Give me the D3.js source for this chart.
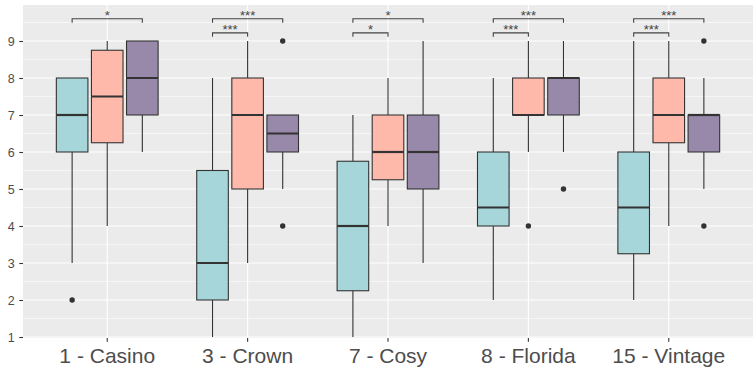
<!DOCTYPE html>
<html>
<head>
<meta charset="utf-8">
<script src="https://cdn.jsdelivr.net/npm/d3@7"></script>
<style>
  html, body { margin: 0; padding: 0; background: #fff; }
  svg { display: block; }
</style>
</head>
<body>
<svg id="chart" width="753" height="369"></svg>
<script>
// Categories along the x axis
const groups = ["1 - Casino", "3 - Crown", "7 - Cosy", "8 - Florida", "15 - Vintage"];
// Three box series per category: [lower whisker, Q1, median, Q3, upper whisker]
const seriesNames = ["s1", "s2", "s3"];
const seriesColors = ["#A6D6D9", "#FFB9AA", "#9888A9"];
const statsS1 = [[3, 6, 7, 8, 8], [1, 2, 3, 5.5, 8], [1, 2.25, 4, 5.75, 7], [2, 4, 4.5, 6, 8], [2, 3.25, 4.5, 6, 9]];
const statsS2 = [[4, 6.25, 7.5, 8.75, 9], [3, 5, 7, 8, 9], [4, 5.25, 6, 7, 8], [6, 7, 7, 8, 9], [4, 6.25, 7, 8, 9]];
const statsS3 = [[6, 7, 8, 9, 9], [5, 6, 6.5, 7, 7], [3, 5, 6, 7, 9], [6, 7, 8, 8, 9], [5, 6, 7, 7, 8]];
// Outlying points per category
const outliersS1 = [[2], [], [], [], []];
const outliersS2 = [[], [], [], [4], []];
const outliersS3 = [[], [9, 4], [], [5], [9, 4]];
// Significance brackets: s1 vs s3 (upper) and s1 vs s2 (lower)
const sigUpper = ["*", "***", "*", "***", "***"];
const sigLower = [null, "***", "*", "***", "***"];
const sigUpperY = 9.6;
const sigLowerY = 9.22;
// Y axis ticks
const yTicks = [1, 2, 3, 4, 5, 6, 7, 8, 9];
const yMinor = [1.5, 2.5, 3.5, 4.5, 5.5, 6.5, 7.5, 8.5, 9.5];

const allStats = [statsS1, statsS2, statsS3];
const allOutliers = [outliersS1, outliersS2, outliersS3];

const panel = { left: 23, right: 753, top: 5, bottom: 338 };
const svg = d3.select("#chart");
const font = "'Liberation Sans', Arial, sans-serif";

const x = d3.scaleBand().domain(groups).range([panel.left, panel.right])
  .paddingInner(0).paddingOuter(0.1);
const y = d3.scaleLinear().domain([1, 9]).range([337, 41]);
const step = x.step();
const dodge = d3.scalePoint().domain(seriesNames).range([-0.25 * step, 0.25 * step]);
const boxW = 0.225 * step;
const cx = g => x(g) + x.bandwidth() / 2;

// Panel background and grid
svg.append("rect")
  .attr("x", panel.left).attr("y", panel.top)
  .attr("width", panel.right - panel.left).attr("height", panel.bottom - panel.top)
  .attr("fill", "#EBEBEB");

const grid = svg.append("g");
grid.selectAll("line.minor").data(yMinor).join("line")
  .attr("x1", panel.left).attr("x2", panel.right)
  .attr("y1", d => y(d)).attr("y2", d => y(d))
  .attr("stroke", "#fff").attr("stroke-width", 0.55);
grid.selectAll("line.major").data(yTicks).join("line")
  .attr("x1", panel.left).attr("x2", panel.right)
  .attr("y1", d => y(d)).attr("y2", d => y(d))
  .attr("stroke", "#fff").attr("stroke-width", 1.1);
grid.selectAll("line.vmajor").data(groups).join("line")
  .attr("x1", d => cx(d)).attr("x2", d => cx(d))
  .attr("y1", panel.top).attr("y2", panel.bottom)
  .attr("stroke", "#fff").attr("stroke-width", 1.1);

// Boxes
const ink = "#333333";
seriesNames.forEach((s, si) => {
  const g = svg.append("g");
  groups.forEach((grp, gi) => {
    const [lo, q1, med, q3, hi] = allStats[si][gi];
    const c = cx(grp) + dodge(s);
    // whiskers
    g.append("line").attr("x1", c).attr("x2", c).attr("y1", y(q3)).attr("y2", y(hi))
      .attr("stroke", ink).attr("stroke-width", 1.1);
    g.append("line").attr("x1", c).attr("x2", c).attr("y1", y(q1)).attr("y2", y(lo))
      .attr("stroke", ink).attr("stroke-width", 1.1);
    // box
    g.append("rect")
      .attr("x", c - boxW / 2).attr("y", y(q3))
      .attr("width", boxW).attr("height", y(q1) - y(q3))
      .attr("fill", seriesColors[si]).attr("stroke", ink).attr("stroke-width", 1.1);
    // median
    g.append("line").attr("x1", c - boxW / 2).attr("x2", c + boxW / 2)
      .attr("y1", y(med)).attr("y2", y(med))
      .attr("stroke", ink).attr("stroke-width", 2.2);
    // outliers
    allOutliers[si][gi].forEach(v => {
      g.append("circle").attr("cx", c).attr("cy", y(v)).attr("r", 2.7).attr("fill", ink);
    });
  });
});

// Significance brackets
const bracketInk = "#444444";
function bracket(grp, fromS, toS, yv, label) {
  if (!label) return;
  const x1 = cx(grp) + dodge(fromS), x2 = cx(grp) + dodge(toS);
  const yy = y(yv), tick = 4;
  svg.append("path")
    .attr("d", `M${x1},${yy + tick}V${yy}H${x2}V${yy + tick}`)
    .attr("fill", "none").attr("stroke", bracketInk).attr("stroke-width", 1.1);
  svg.append("text")
    .attr("x", (x1 + x2) / 2).attr("y", yy + 1.5)
    .attr("text-anchor", "middle")
    .attr("font-family", font).attr("font-size", 13)
    .attr("fill", bracketInk)
    .text(label);
}
groups.forEach((grp, gi) => {
  bracket(grp, "s1", "s3", sigUpperY, sigUpper[gi]);
  bracket(grp, "s1", "s2", sigLowerY, sigLower[gi]);
});

// Axes
const yAxis = svg.append("g")
  .attr("transform", `translate(${panel.left},0)`)
  .call(d3.axisLeft(y).tickValues(yTicks).tickSize(3.7).tickPadding(4.5).tickFormat(d3.format("d")));
yAxis.select(".domain").remove();
yAxis.selectAll("line").attr("stroke", ink).attr("stroke-width", 1.1);
yAxis.selectAll("text").attr("font-family", font).attr("font-size", 12.5).attr("fill", "#4D4D4D");

const xAxis = svg.append("g")
  .attr("transform", `translate(0,${panel.bottom})`)
  .call(d3.axisBottom(x).tickSize(3.7).tickPadding(6));
xAxis.select(".domain").remove();
xAxis.selectAll("line").attr("stroke", ink).attr("stroke-width", 1.1);
xAxis.selectAll("text").attr("font-family", font).attr("font-size", 21).attr("fill", "#4D4D4D");
</script>
</body>
</html>
